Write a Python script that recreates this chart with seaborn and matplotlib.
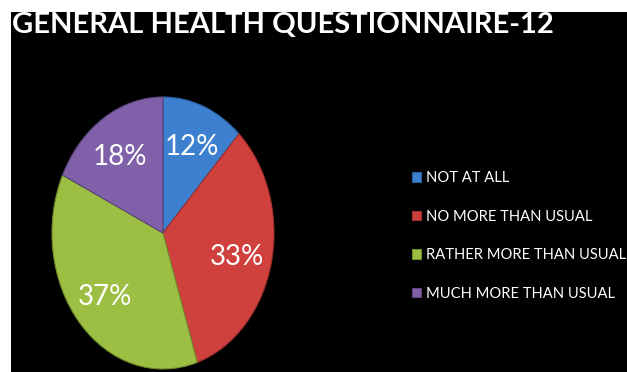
import matplotlib
matplotlib.use("Agg")
import matplotlib.pyplot as plt
import seaborn as sns

sns.set_theme(style="white")
plt.rcParams['font.family'] = ['Lato', 'DejaVu Sans']

title = "GENERAL HEALTH QUESTIONNAIRE-12"
categories = ["NOT AT ALL", "NO MORE THAN USUAL", "RATHER MORE THAN USUAL", "MUCH MORE THAN USUAL"]
values = [12, 33, 37, 18]
pct_labels = ["12%", "33%", "37%", "18%"]
colors = ["#3d80cf", "#d0413e", "#9cbf43", "#8060a8"]
edges = ["#2a5f9e", "#9e2e2c", "#6f8c2c", "#5c447c"]

W, H = 627, 372
fig = plt.figure(figsize=(W / 100, H / 100), dpi=100, facecolor="white")

# black background panel
bg = fig.add_axes([11 / W, 0, (W - 11) / W, (H - 12) / H])
bg.set_facecolor("black")
bg.set_xticks([]); bg.set_yticks([])
for s in bg.spines.values():
    s.set_visible(False)

# pie axes (elliptical pie)
cx, cy, rx, ry = 163, 233, 111, 136
ax = fig.add_axes([(cx - rx) / W, (H - cy - ry) / H, 2 * rx / W, 2 * ry / H])
ax.patch.set_alpha(0)
wedges, texts = ax.pie(values, colors=colors, startangle=90, counterclock=False,
                       radius=1, wedgeprops=dict(linewidth=0.8))
for w, e in zip(wedges, edges):
    w.set_edgecolor(e)
ax.set_aspect('auto')
ax.set_xlim(-1, 1); ax.set_ylim(-1, 1)
ax.axis('off')

label_pos = [(192, 147), (237, 257), (105, 297), (120, 157)]
for (px, py), t in zip(label_pos, pct_labels):
    fig.text(px / W, 1 - py / H, t, color="white", fontsize=20,
             ha="center", va="center")

fig.text(12 / W, 1 - 25 / H, title, color="white", fontsize=21,
         fontweight="bold", ha="left", va="center")

leg = fig.legend(wedges, categories, loc="upper left",
                 bbox_to_anchor=(399 / W, 1 - 158 / H), frameon=False,
                 handlelength=0.6, handleheight=0.6, handletextpad=0.3,
                 labelspacing=1.66, fontsize=10.6, labelcolor="white")

fig.savefig("out.png", dpi=100, facecolor="white")
